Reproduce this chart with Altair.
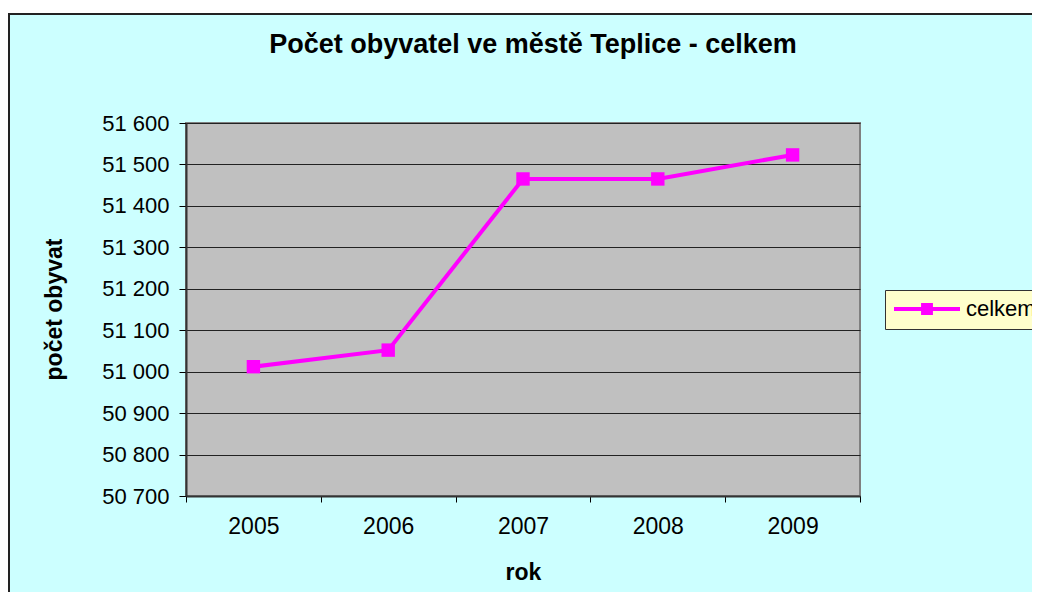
import altair as alt
import pandas as pd

# ---- data ----
years = ["2005", "2006", "2007", "2008", "2009"]
population = [51012, 51052, 51465, 51465, 51523]
series_name = ["celkem", "celkem", "celkem", "celkem", "celkem"]
y_ticks = [50700, 50800, 50900, 51000, 51100, 51200, 51300, 51400, 51500, 51600]
title_text = "Počet obyvatel ve městě Teplice - celkem"
x_title = "rok"
y_title = "počet obyvat"

df = pd.DataFrame({"rok": years, "pocet": population, "serie": series_name})
frame_df = pd.DataFrame({"k": [0]})

FONT = "Liberation Sans"
MAGENTA = "#FF00FF"

x_enc = alt.X(
    "rok:O",
    sort=years,
    scale=alt.Scale(type="band", paddingInner=0, paddingOuter=0),
    axis=alt.Axis(
        title=x_title, labelAngle=0, tickBand="extent", tickSize=6, tickColor="#000",
        tickWidth=1, labelFont=FONT, labelFontSize=23, labelColor="#000", labelPadding=13,
        titleFont=FONT, titleFontSize=23, titleFontWeight="bold", titleColor="#000",
        titleX=337, titleY=76, titleAlign="center", titleBaseline="middle",
        domainColor="#333333", domainWidth=2, grid=False,
    ),
)
y_enc = alt.Y(
    "pocet:Q",
    scale=alt.Scale(domain=[50700, 51600], nice=False, zero=False),
    axis=alt.Axis(
        values=y_ticks,
        labelExpr="replace(format(datum.value, ','), ',', ' ')",
        labelFont=FONT, labelFontSize=22, labelColor="#000", labelPadding=10,
        tickSize=7, tickColor="#000", tickWidth=1,
        grid=True, gridColor="#222222", gridWidth=1.2,
        domainColor="#333333", domainWidth=2,
        title=y_title, titleFont=FONT, titleFontSize=23, titleFontWeight="bold",
        titleColor="#000", titleAngle=270, titleX=-132, titleY=186,
        titleAlign="center", titleBaseline="middle",
    ),
)

top_white = alt.Chart(frame_df).mark_rect(color="white").encode(
    x=alt.value(-178), x2=alt.value(846), y=alt.value(-115), y2=alt.value(-110)
)
left_rule = alt.Chart(frame_df).mark_rule(color="#222222", strokeWidth=2).encode(
    x=alt.value(-177), y=alt.value(-109), y2=alt.value(600)
)
top_rule = alt.Chart(frame_df).mark_rule(color="#222222", strokeWidth=2).encode(
    x=alt.value(-178), x2=alt.value(846), y=alt.value(-109)
)

line = alt.Chart(df).mark_line(color=MAGENTA, strokeWidth=4).encode(x=x_enc, y=y_enc)
points = alt.Chart(df).mark_point(shape="square", filled=True, size=180, opacity=1).encode(
    x=x_enc,
    y=y_enc,
    color=alt.Color(
        "serie:N",
        scale=alt.Scale(range=[MAGENTA]),
        legend=alt.Legend(
            title=None, orient="none", legendX=699, legendY=167,
            fillColor="#FFFFCC", strokeColor="#333333", padding=9,
            symbolType="M-1,-0.06H1V0.06H-1Z M-0.18,-0.18H0.18V0.18H-0.18Z",
            symbolSize=4356, symbolStrokeWidth=0, symbolOpacity=1,
            labelFont=FONT, labelFontSize=22, labelColor="#000", labelOffset=6,
            clipHeight=20,
        ),
    ),
)

chart = alt.layer(top_white, left_rule, top_rule, line, points).properties(
    width=674,
    height=373,
    padding={"left": 178, "top": 115, "right": 172, "bottom": 96},
    autosize=alt.AutoSizeParams(type="none"),
    title=alt.TitleParams(
        text=title_text, font=FONT, fontSize=27, fontWeight="bold", color="#000",
        anchor="middle", frame="group", offset=0, dx=10, dy=72, baseline="alphabetic",
    ),
).configure(background="#CCFFFF").configure_view(
    fill="#C0C0C0", stroke="#808080", strokeWidth=2
)

chart.save("out.html", embed_options={"renderer": "svg", "actions": False})
